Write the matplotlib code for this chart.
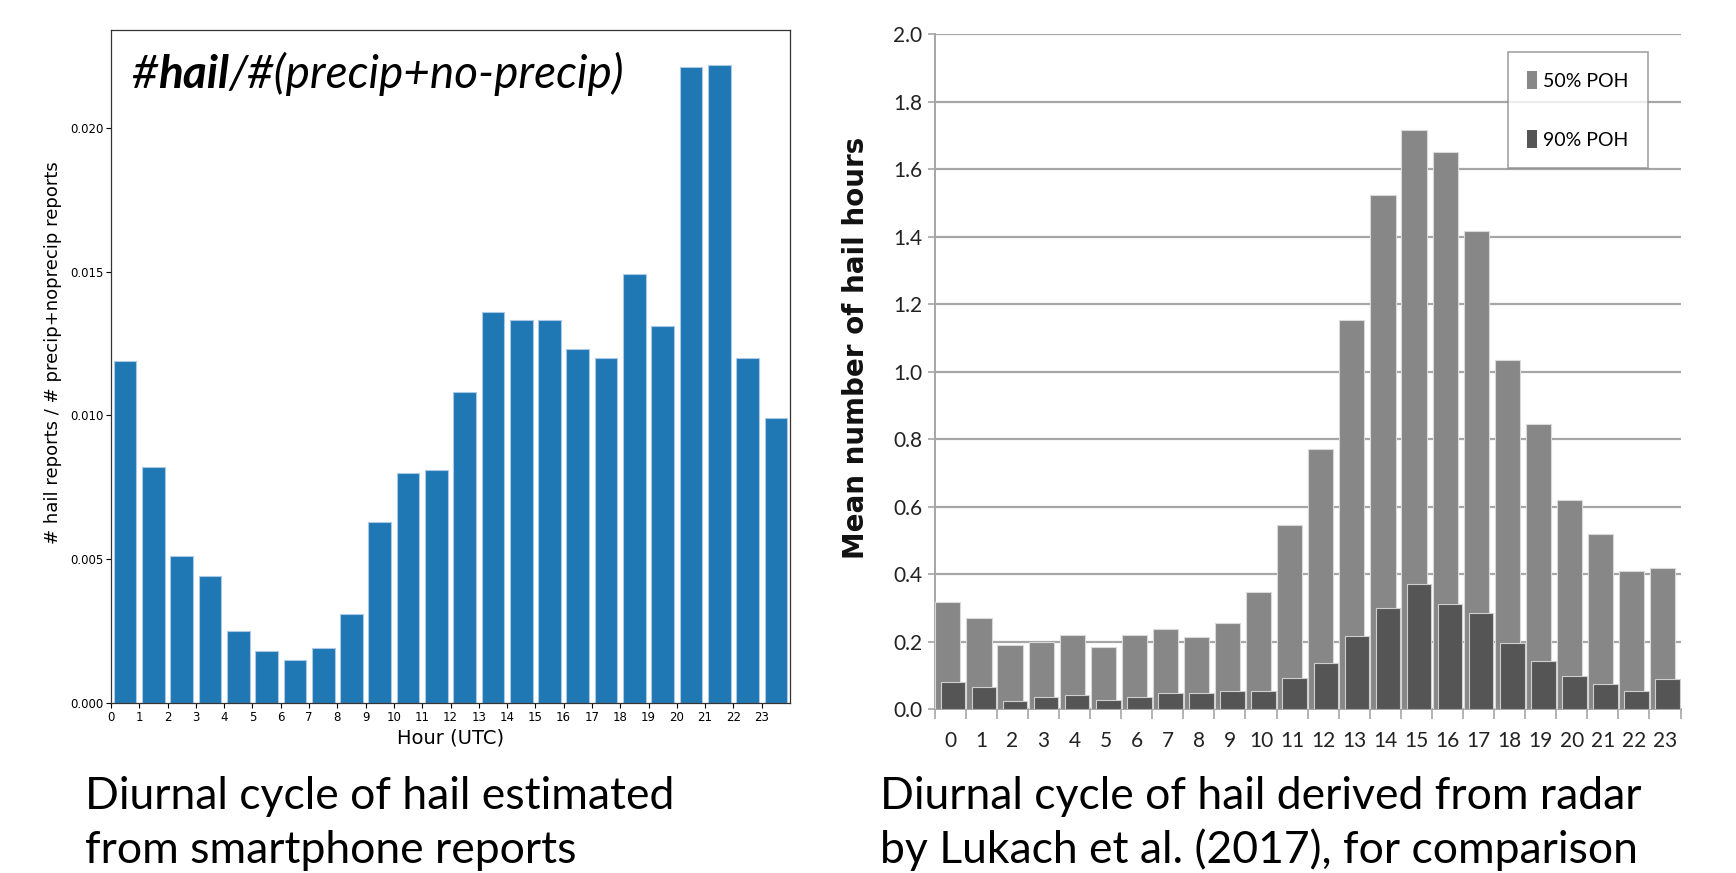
import matplotlib
matplotlib.use("Agg")
import matplotlib.pyplot as plt
import numpy as np
from matplotlib.patches import Patch

# ---------------- data ----------------
hours = list(range(24))
hour_labels = [str(h) for h in hours]

# left: smartphone-based ratio #hail / #(precip+no-precip)
hail_ratio = [0.0119, 0.0082, 0.0051, 0.0044, 0.0025, 0.0018, 0.0015, 0.0019,
              0.0031, 0.0063, 0.0080, 0.0081, 0.0108, 0.0136, 0.0133, 0.0133,
              0.0123, 0.0120, 0.0149, 0.0131, 0.0221, 0.0222, 0.0120, 0.0099]
left_yticks = [0.000, 0.005, 0.010, 0.015, 0.020]

# right: radar-derived mean number of hail hours (Lukach et al. 2017)
poh50 = [0.318, 0.270, 0.190, 0.200, 0.220, 0.185, 0.218, 0.237, 0.214, 0.254,
         0.348, 0.546, 0.771, 1.154, 1.524, 1.716, 1.652, 1.417, 1.034, 0.846,
         0.619, 0.520, 0.410, 0.417]
poh90 = [0.080, 0.065, 0.023, 0.036, 0.042, 0.027, 0.037, 0.047, 0.046, 0.053,
         0.052, 0.093, 0.136, 0.215, 0.298, 0.370, 0.311, 0.284, 0.195, 0.143,
         0.099, 0.073, 0.054, 0.090]
right_yticks = [0.0, 0.2, 0.4, 0.6, 0.8, 1.0, 1.2, 1.4, 1.6, 1.8, 2.0]
series_labels = ["50% POH", "90% POH"]

caption_left = ["Diurnal cycle of hail estimated", "from smartphone reports"]
caption_right = ["Diurnal cycle of hail derived from radar",
                 "by Lukach et al. (2017), for comparison"]

# ---------------- figure ----------------
W, H = 1736, 873
fig = plt.figure(figsize=(W / 100, H / 100), dpi=100)
fig.patch.set_facecolor("white")

SANS = ["Lato", "DejaVu Sans"]

def ax_rect(x0, y0, x1, y1):
    return [x0 / W, 1 - y1 / H, (x1 - x0) / W, (y1 - y0) / H]

# ---------- left chart ----------
axL = fig.add_axes(ax_rect(111, 30, 790, 703))
x = np.array(hours) + 0.5
axL.bar(x, hail_ratio, width=0.8, color="#1f77b4", edgecolor="#a9c9e6",
        linewidth=0.8)
axL.set_xlim(0, 24)
axL.set_ylim(0, 0.0234)
axL.set_xticks(hours)
axL.set_xticklabels(hour_labels)
axL.set_yticks(left_yticks)
axL.set_yticklabels([f"{v:.3f}" for v in left_yticks])
axL.tick_params(axis="both", labelsize=8.5, length=3.5, width=0.8, pad=2)
for s in axL.spines.values():
    s.set_linewidth(0.9)
    s.set_color("#333333")
axL.set_xlabel("Hour (UTC)", fontsize=14)
axL.xaxis.set_label_coords(0.5, -0.038)
axL.set_ylabel("# hail reports / # precip+noprecip reports", fontsize=13)
axL.yaxis.set_label_coords(-0.072, 0.52)

# composite italic title with bold "hail"
fig.canvas.draw()
renderer = fig.canvas.get_renderer()
pieces = [("#", "normal"), ("hail", "bold"), ("/#(precip+no-precip)", "normal")]
px = 131.0
py_baseline = H - 88.0
for txt, wt in pieces:
    t = fig.text(px / W, py_baseline / H, txt, fontsize=33, style="italic",
                 fontweight=wt, family=SANS, va="baseline", ha="left",
                 color="black")
    bb = t.get_window_extent(renderer)
    px += bb.width

# ---------- right chart ----------
axR = fig.add_axes(ax_rect(934.7, 34.3, 1680.5, 709))
xr = np.array(hours)
axR.bar(xr + 0.425, poh50, width=0.81, color="#878787", edgecolor="#d9d9d9",
        linewidth=0.8, zorder=3, label=series_labels[0])
axR.bar(xr + 0.585, poh90, width=0.79, color="#555555", edgecolor="#cfcfcf",
        linewidth=0.8, zorder=4, label=series_labels[1])
axR.set_xlim(0, 24)
axR.set_ylim(0, 2.0)
axR.set_yticks(right_yticks)
axR.set_yticklabels([f"{v:.1f}" for v in right_yticks], family=SANS,
                    fontsize=15, color="#222222")
axR.set_xticks(xr + 0.5)
axR.set_xticklabels(hour_labels, family=SANS, fontsize=15, color="#222222")
axR.set_xticks(np.arange(0, 25), minor=True)
axR.tick_params(axis="x", which="major", length=0, pad=16)
axR.tick_params(axis="x", which="minor", length=7, width=1.2, color="#a6a6a6",
                direction="out")
axR.tick_params(axis="y", length=5, width=1.2, color="#a6a6a6", pad=4)
axR.yaxis.grid(True, color="#a6a6a6", linewidth=1.6, zorder=0)
axR.set_axisbelow(True)
for side in ["top", "right"]:
    axR.spines[side].set_visible(False)
for side in ["left", "bottom"]:
    axR.spines[side].set_color("#a6a6a6")
    axR.spines[side].set_linewidth(1.4)
axR.set_ylabel("Mean number of hail hours", fontsize=20, fontweight="bold",
               color="#111111")
axR.yaxis.set_label_coords(-0.087, 0.535)

handles = [Patch(facecolor="#878787", edgecolor="none"),
           Patch(facecolor="#555555", edgecolor="none")]
leg = axR.legend(handles, series_labels, loc="upper right",
                 bbox_to_anchor=(0.956, 0.974), frameon=True, fancybox=False,
                 prop={"family": SANS, "size": 14}, handlelength=0.5,
                 handleheight=1.0, handletextpad=0.3, labelspacing=2.1,
                 borderpad=1.0, borderaxespad=0.0)
leg.get_frame().set_edgecolor("#8c8c8c")
leg.get_frame().set_linewidth(1.2)
leg.set_zorder(10)

# ---------- captions ----------
cap_size = 32
for i, line in enumerate(caption_left):
    fig.text(85 / W, 1 - (809 + 54 * i) / H, line, fontsize=cap_size,
             family=SANS, va="baseline", ha="left", color="black")
for i, line in enumerate(caption_right):
    fig.text(880 / W, 1 - (809 + 54 * i) / H, line, fontsize=cap_size,
             family=SANS, va="baseline", ha="left", color="black")

fig.savefig("out.png", dpi=100, facecolor="white")
